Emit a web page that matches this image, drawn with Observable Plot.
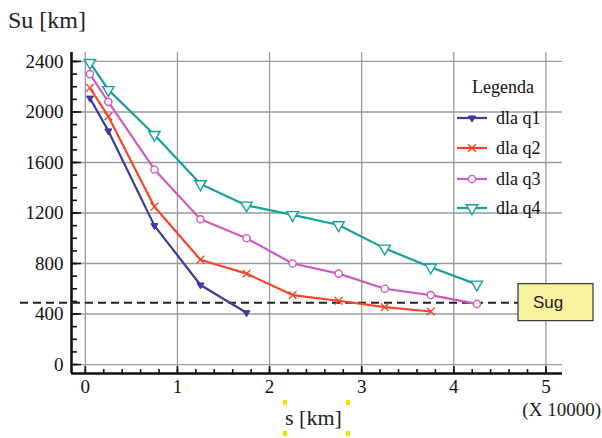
<!DOCTYPE html>
<html>
<head>
<meta charset="utf-8">
<script src="https://cdn.jsdelivr.net/npm/d3@7"></script>
<script src="https://cdn.jsdelivr.net/npm/@observablehq/plot@0.6"></script>
<style>
  html, body { margin: 0; padding: 0; background: #fff; }
  svg { display: block; }
</style>
</head>
<body>
<script>
// ---- data (s in units of 10000 km, Su in km) ----
const sValues = [0.05, 0.25, 0.75, 1.25, 1.75, 2.25, 2.75, 3.25, 3.75, 4.25];
const q1 = [2110, 1850, 1100, 630, 410];
const q2 = [2190, 1965, 1250, 830, 720, 550, 505, 455, 420];
const q3 = [2300, 2080, 1545, 1150, 1000, 800, 720, 600, 550, 480];
const q4 = [2390, 2175, 1820, 1430, 1260, 1185, 1105, 920, 770, 635];
const seriesNames = ["dla q1", "dla q2", "dla q3", "dla q4"];
const sug = 490;
const sugLabel = "Sug";
const xTicks = [0, 1, 2, 3, 4, 5];
const yTicks = [0, 400, 800, 1200, 1600, 2000, 2400];
const xMinorTicks = d3.range(0, 26).map(i => i / 5);
const yMinorTicks = d3.range(0, 25).map(i => i * 100);
const yTitle = "Su [km]";
const xTitle = "s [km]";
const xMultiplier = "(X 10000)";
const legendTitle = "Legenda";

// ---- styles ----
const colors = ["#3b3b9f", "#f4472a", "#cc5cc2", "#16a09e"];
const serif = "Liberation Serif, DejaVu Serif, serif";
const sans = "Liberation Sans, Arial, sans-serif";

const allSeries = [q1, q2, q3, q4];
const rows = allSeries.flatMap((vals, k) =>
  vals.map((v, i) => ({ s: sValues[i], su: v, series: seriesNames[k] })));

const W = 602, H = 438;
const mL = 71, mR = 40, mT = 52, mB = 65;
const pw = W - mL - mR, ph = H - mT - mB;
const xDomain = [-0.15, 5.18];
const yDomain = [-71, 2471];

const markerOpts = [
  { symbol: "triangle", rotate: 180, r: 2.6, fill: colors[0], stroke: colors[0], strokeWidth: 1 },
  { symbol: "times", r: 3.6, fill: "none", stroke: colors[1], strokeWidth: 1.4 },
  { symbol: "circle", r: 3.6, fill: "white", stroke: colors[2], strokeWidth: 1.4 },
  { symbol: "triangle", rotate: 180, r: 4.2, fill: "white", stroke: colors[3], strokeWidth: 1.4 }
];

const chart = Plot.plot({
  width: W, height: H,
  marginLeft: mL, marginRight: mR, marginTop: mT, marginBottom: mB,
  style: { fontFamily: serif, background: "white", color: "#111", overflow: "visible" },
  x: { domain: xDomain, axis: null, label: null },
  y: { domain: yDomain, axis: null, label: null },
  color: { domain: seriesNames, range: colors },
  marks: [
    Plot.gridX(xTicks, { stroke: "#9a9a9a", strokeOpacity: 1, strokeWidth: 1.3 }),
    Plot.gridY(yTicks, { stroke: "#9a9a9a", strokeOpacity: 1, strokeWidth: 1.3 }),
    // minor & major inward ticks
    Plot.ruleY(yMinorTicks, { insetRight: pw - 6, stroke: "#111", strokeWidth: 1.6 }),
    Plot.ruleY(yTicks, { insetRight: pw - 10, stroke: "#111", strokeWidth: 1.6 }),
    Plot.ruleX(xMinorTicks, { insetTop: ph - 4, stroke: "#111", strokeWidth: 1.6 }),
    Plot.ruleX(xTicks, { insetTop: ph - 7, stroke: "#111", strokeWidth: 1.6 }),
    // axis lines
    Plot.ruleX([xDomain[0]], { stroke: "#111", strokeWidth: 2.6 }),
    Plot.ruleY([yDomain[0]], { stroke: "#111", strokeWidth: 2.6 }),
    // tick labels
    Plot.text(xTicks, { x: d => d, text: d => String(d), frameAnchor: "bottom", dy: 19,
      fontSize: 19, fontFamily: serif, fill: "#111" }),
    Plot.text(yTicks, { y: d => d, text: d => String(d), frameAnchor: "left", dx: -8,
      textAnchor: "end", fontSize: 19, fontFamily: serif, fill: "#111" }),
    // Sug threshold
    Plot.ruleY([sug], { insetLeft: -51, insetRight: 44, stroke: "#222", strokeWidth: 2, strokeDasharray: "8,5" }),
    // series lines
    Plot.line(rows, { x: "s", y: "su", z: "series", stroke: "series", strokeWidth: 2.2 }),
    ...seriesNames.map((name, k) =>
      Plot.dot(rows.filter(d => d.series === name), { x: "s", y: "su", ...markerOpts[k] }))
  ]
});
document.body.append(chart);

const svg = d3.select(chart);
const ySug = chart.scale("y").apply(sug);

// Sug box
const box = svg.append("g").attr("text-anchor", "middle");
box.append("rect").attr("x", 518).attr("y", ySug - 18.5).attr("width", 75).attr("height", 37)
  .attr("fill", "#f6f29f").attr("stroke", "#333").attr("stroke-width", 1.2);
box.append("text").attr("x", 548).attr("y", ySug + 6)
  .attr("font-family", sans).attr("font-size", 17).attr("fill", "#222").text(sugLabel);

// titles
const tg = svg.append("g").attr("font-family", serif).attr("fill", "#222").attr("text-anchor", "start");
tg.append("text").attr("x", 8).attr("y", 28).attr("font-size", 24).text(yTitle);
tg.append("text").attr("x", 285).attr("y", 425).attr("font-size", 22).text(xTitle);
tg.append("text").attr("x", 601).attr("y", 416).attr("text-anchor", "end")
  .attr("font-size", 19).text(xMultiplier);

// yellow selection marks around x title
[[283, 400], [346, 400], [283, 431], [346, 431]].forEach(([x, y]) =>
  svg.append("rect").attr("x", x).attr("y", y).attr("width", 4).attr("height", 5).attr("fill", "#f2e000"));

// legend
const lg = svg.append("g").attr("font-family", serif).attr("font-size", 18).attr("fill", "#111")
  .attr("text-anchor", "start");
lg.append("text").attr("x", 472).attr("y", 93).text(legendTitle);
const legendY = [118, 148, 179, 208];
const symMap = { triangle: d3.symbolTriangle, times: d3.symbolTimes, circle: d3.symbolCircle };
seriesNames.forEach((name, k) => {
  const y = legendY[k];
  lg.append("line").attr("x1", 457).attr("x2", 487).attr("y1", y).attr("y2", y)
    .attr("stroke", colors[k]).attr("stroke-width", 2.2);
  const m = markerOpts[k];
  lg.append("path")
    .attr("d", d3.symbol(symMap[m.symbol], Math.PI * m.r * m.r)())
    .attr("transform", `translate(472,${y}) rotate(${m.rotate || 0})`)
    .attr("fill", m.fill).attr("stroke", m.stroke).attr("stroke-width", m.strokeWidth);
  lg.append("text").attr("x", 496).attr("y", y + 6).text(name);
});
</script>
</body>
</html>
